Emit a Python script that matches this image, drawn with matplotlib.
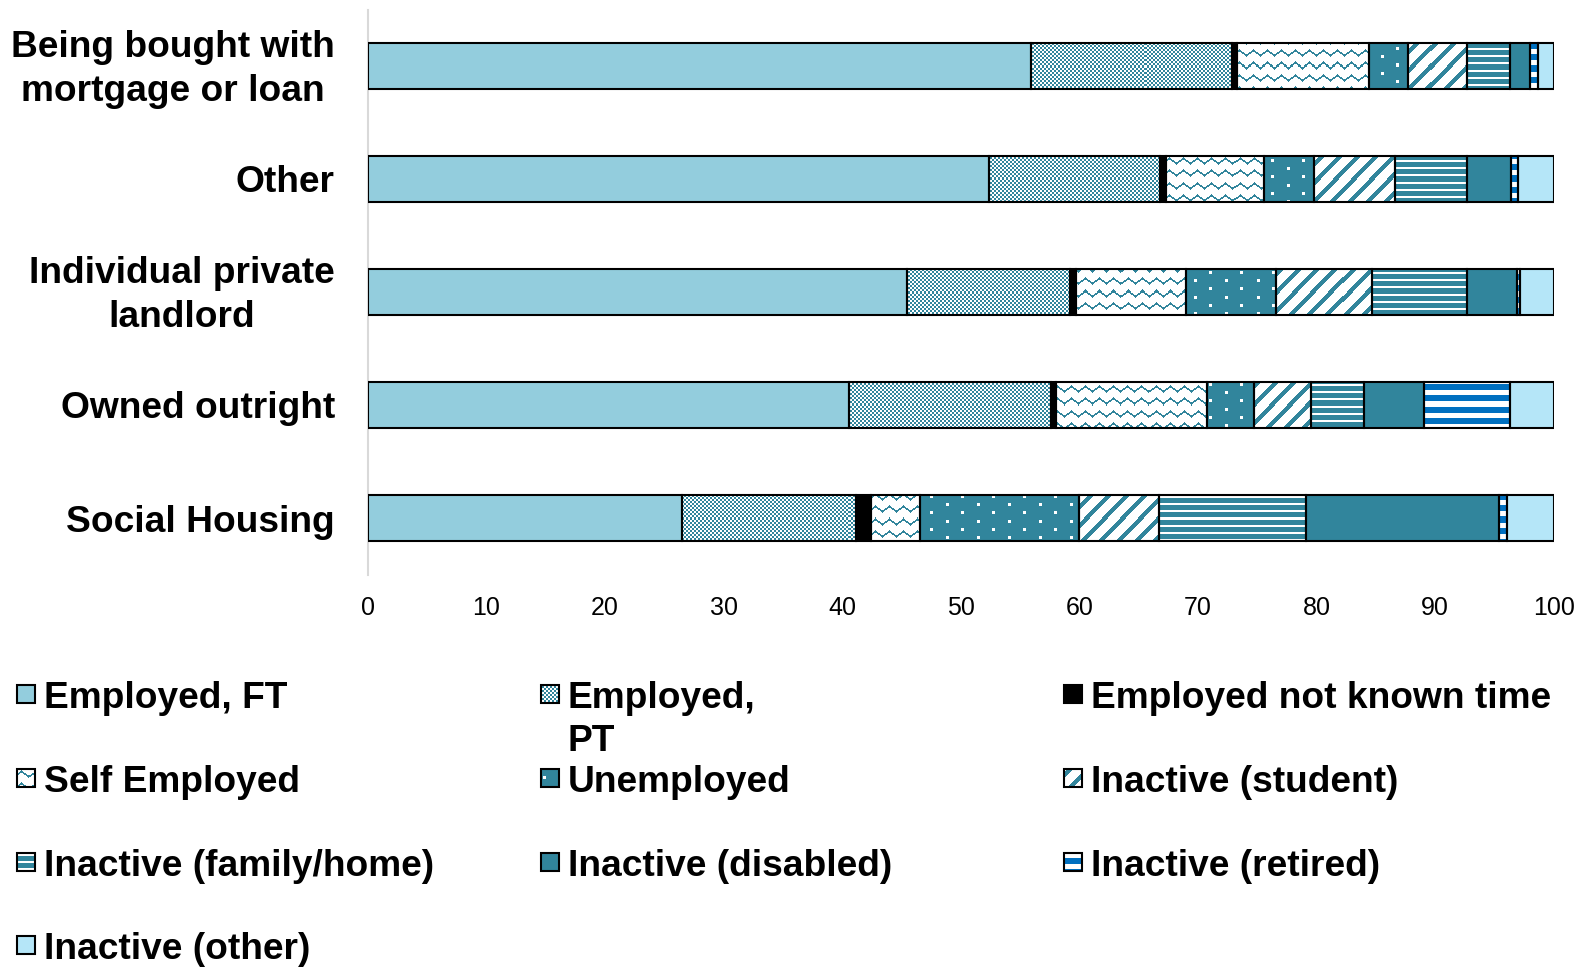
import numpy as np
import matplotlib
matplotlib.use("Agg")
import matplotlib.pyplot as plt
from matplotlib.patches import Rectangle
from matplotlib.colors import to_rgba
from matplotlib.transforms import ScaledTranslation

plt.rcParams['font.family'] = ['Liberation Sans', 'DejaVu Sans']

# ---- data (percent of households in each tenure group) ----
categories = ["Being bought with\nmortgage or loan", "Other",
              "Individual private\nlandlord", "Owned outright", "Social Housing"]
series = ["Employed, FT", "Employed,\nPT", "Employed not known time",
          "Self Employed", "Unemployed", "Inactive (student)",
          "Inactive (family/home)", "Inactive (disabled)", "Inactive (retired)",
          "Inactive (other)"]

employed_ft       = [55.9, 52.4, 45.5, 40.6, 26.5]
employed_pt       = [17.0, 14.4, 13.7, 17.0, 14.7]
employed_unknown  = [0.4, 0.5, 0.5, 0.4, 1.2]
self_employed     = [11.1, 8.3, 9.3, 12.8, 4.2]
unemployed        = [3.3, 4.2, 7.6, 3.9, 13.4]
inactive_student  = [5.0, 6.8, 8.1, 4.8, 6.7]
inactive_family   = [3.6, 6.1, 8.0, 4.5, 12.4]
inactive_disabled = [1.75, 3.7, 4.2, 5.1, 16.3]
inactive_retired  = [0.65, 0.6, 0.3, 7.2, 0.7]
inactive_other    = [1.3, 3.0, 2.8, 3.7, 3.9]

values = [employed_ft, employed_pt, employed_unknown, self_employed, unemployed,
          inactive_student, inactive_family, inactive_disabled, inactive_retired,
          inactive_other]
xticks = list(range(0, 101, 10))

# ---- styling ----
TEAL = '#31859C'
BLUE = '#0070C0'
# (face colour, pattern colour, pattern kind)
styles = [
    ('#93CDDD', None, None),
    ('white', TEAL, 'checker'),
    ('black', None, None),
    ('white', TEAL, 'wave'),
    (TEAL, 'white', 'dots'),
    ('white', TEAL, 'diag'),
    (TEAL, 'white', 'hlines'),
    (TEAL, None, None),
    ('white', BLUE, 'stripes'),
    ('#B5E6F8', None, None),
]

W, H, DPI = 1587, 967, 100
fig = plt.figure(figsize=(W / DPI, H / DPI), dpi=DPI)
LINESPACING = 1.32


def pattern_mask(kind, ix, iy):
    if kind == 'checker':
        return ((ix // 2) + (iy // 2)) % 2 == 0
    if kind == 'wave':
        tri = np.abs((ix % 14) - 7) / 7.0 * 5.0
        return np.abs((iy % 12) - (3.0 + tri)) < 1.1
    if kind == 'dots':
        a = ((ix % 31) < 3) & ((iy % 16) < 3)
        b = (((ix + 15) % 31) < 3) & (((iy + 8) % 16) < 3)
        return a | b
    if kind == 'diag':
        return ((ix + iy) % 18) < 6
    if kind == 'hlines':
        return (iy % 7) < 2
    if kind == 'stripes':
        return (iy % 11) < 6
    return np.zeros(np.broadcast(ix, iy).shape, bool)


def overlay_pattern(ax, patch, kind, fg, bg, zorder=2):
    """Fill a patch with a pixel-aligned bitmap pattern."""
    bb = patch.get_window_extent()
    x0, x1 = int(np.floor(bb.x0)), int(np.ceil(bb.x1))
    yb0, yb1 = int(np.floor(bb.y0)), int(np.ceil(bb.y1))
    if x1 <= x0 or yb1 <= yb0:
        return
    ix = np.arange(x0, x1)[None, :]
    iy = np.arange(H - yb1, H - yb0)[:, None]
    mask = pattern_mask(kind, ix, iy)
    arr = np.where(mask[..., None], np.array(to_rgba(fg)), np.array(to_rgba(bg)))
    inv = ax.transData.inverted()
    dx0, dyb = inv.transform((x0, yb0))
    dx1, dyt = inv.transform((x1, yb1))
    im = ax.imshow(arr, extent=(dx0, dx1, dyb, dyt), origin='upper',
                   interpolation='nearest', aspect='auto', zorder=zorder)
    im.set_clip_path(patch)


# ---- main chart ----
ax_left, ax_right, ax_top, ax_bottom = 368, 1553.6, 9.5, 574.5
ax = fig.add_axes([ax_left / W, 1 - ax_bottom / H,
                   (ax_right - ax_left) / W, (ax_bottom - ax_top) / H])
ax.set_xlim(0, 100)
ax.set_ylim(-0.5, len(categories) - 0.5)

pos = np.arange(len(categories))[::-1]
bar_h = 0.41
left = np.zeros(len(categories))
for vals, (face, fg, kind) in zip(values, styles):
    vals = np.asarray(vals, float)
    bars = ax.barh(pos, vals, left=left, height=bar_h, color=face,
                   linewidth=0, zorder=1)
    if kind:
        for b in bars:
            overlay_pattern(ax, b, kind, fg, face)
    ax.barh(pos, vals, left=left, height=bar_h, fill=False,
            edgecolor='black', linewidth=1.5, zorder=3)
    left += vals

ax.set_xlim(0, 100)
ax.set_ylim(-0.5, len(categories) - 0.5)

for s in ('top', 'right', 'bottom'):
    ax.spines[s].set_visible(False)
ax.spines['left'].set_color('#D9D9D9')
ax.spines['left'].set_linewidth(1.5)

ax.set_xticks(xticks)
ax.set_xticklabels([str(t) for t in xticks])
ax.tick_params(axis='x', length=0, labelsize=18, pad=15.6, colors='black')
ax.set_yticks(pos)
ax.set_yticklabels(categories, fontsize=26.7, fontweight='bold')
ax.tick_params(axis='y', length=0, pad=23.8)
# two-line category names: centre the block on the bar
nudge = ScaledTranslation(0, -3.5 / DPI, fig.dpi_scale_trans)
for lbl in ax.get_yticklabels():
    lbl.set_multialignment('center')
    lbl.set_linespacing(LINESPACING)
    if '\n' in lbl.get_text():
        lbl.set_verticalalignment('center')
        lbl.set_transform(lbl.get_transform() + nudge)

# ---- legend (three columns, drawn in pixel coordinates) ----
lax = fig.add_axes([0, 0, 1, 1])
lax.set_xlim(0, W)
lax.set_ylim(H, 0)
lax.axis('off')

col_x = [17.2, 540.5, 1063.7]
row_y = [694.3, 778.3, 862.3, 945.3]
sw = 18.0
em_px = 26.7 * DPI / 72
for i, (name, (face, fg, kind)) in enumerate(zip(series, styles)):
    r, c = divmod(i, 3)
    mx, cy = col_x[c], row_y[r]
    sq = Rectangle((mx, cy - sw / 2), sw, sw, facecolor=face, linewidth=0, zorder=1)
    lax.add_patch(sq)
    if kind:
        overlay_pattern(lax, sq, kind, fg, face)
    lax.add_patch(Rectangle((mx, cy - sw / 2), sw, sw, fill=False,
                            edgecolor='black', linewidth=1.5, zorder=3))
    lax.text(mx + 27.3, cy - 0.372 * em_px, name, ha='left', va='top',
             fontsize=26.7, fontweight='bold', linespacing=LINESPACING)

lax.set_xlim(0, W)
lax.set_ylim(H, 0)

fig.savefig('out.png', dpi=DPI)
